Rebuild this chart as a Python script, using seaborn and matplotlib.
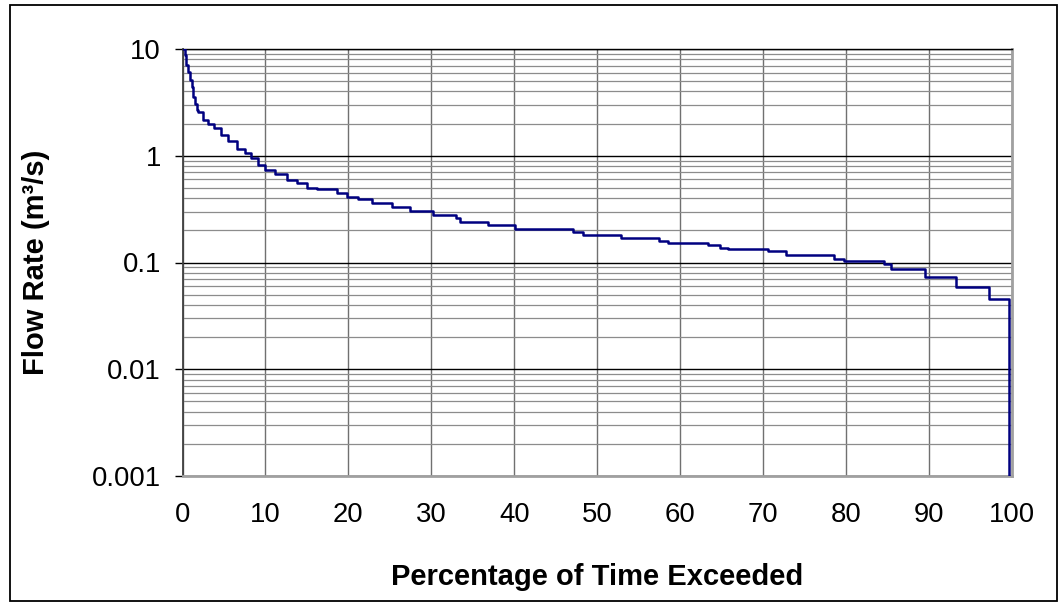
import matplotlib
matplotlib.use("Agg")
import matplotlib.pyplot as plt
import seaborn as sns
import pandas as pd
import numpy as np
from matplotlib.ticker import LogLocator, FixedLocator, NullFormatter
from matplotlib.patches import Rectangle

# Flow duration curve (step points: percentage exceeded, flow rate m3/s)
pct_exceeded = [0.0, 0.27, 0.46, 0.66, 0.9, 1.11, 1.27, 1.47, 1.71, 1.87,
                2.47, 3.07, 3.8, 4.64, 5.48, 6.53, 7.49, 8.29, 9.1, 9.9,
                11.1, 12.55, 13.76, 14.96, 16.17, 18.58, 19.78, 21.18, 22.8, 25.2,
                27.4, 30.2, 33.0, 33.4, 36.8, 40.1, 47.1, 48.3, 52.9, 57.5,
                58.5, 63.3, 64.8, 65.8, 70.6, 72.8, 78.6, 79.8, 84.6, 85.4,
                89.5, 93.3, 97.2, 99.6]
flow_rate = [10.0, 8.79, 7.08, 6.09, 5.12, 4.41, 3.55, 3.05, 2.68, 2.57,
             2.16, 1.98, 1.82, 1.56, 1.37, 1.16, 1.05, 0.946, 0.818, 0.735,
             0.675, 0.593, 0.552, 0.502, 0.485, 0.445, 0.413, 0.394, 0.363, 0.333,
             0.304, 0.279, 0.259, 0.241, 0.2245, 0.206, 0.194, 0.181, 0.168, 0.159,
             0.153, 0.146, 0.1376, 0.133, 0.128, 0.1175, 0.109, 0.103, 0.096, 0.0869,
             0.0726, 0.0586, 0.0452, 0.0001]

x_ticks = [0, 10, 20, 30, 40, 50, 60, 70, 80, 90, 100]
y_ticks = [0.001, 0.01, 0.1, 1, 10]
y_tick_labels = ["0.001", "0.01", "0.1", "1", "10"]

sns.set_style("white")
plt.rcParams["font.family"] = ["Liberation Sans", "DejaVu Sans"]
plt.rcParams["text.color"] = "black"
plt.rcParams["axes.labelcolor"] = "black"
plt.rcParams["xtick.color"] = "black"
plt.rcParams["ytick.color"] = "black"

df = pd.DataFrame({"pct": pct_exceeded, "flow": flow_rate})

fig = plt.figure(figsize=(10.64, 6.07), dpi=100)
ax = fig.add_axes([182.5 / 1064, 1 - 476 / 607, (1012 - 182.5) / 1064, (476 - 49) / 607])

sns.lineplot(data=df, x="pct", y="flow", ax=ax, drawstyle="steps-post",
             color="#000080", linewidth=1.8, estimator=None, sort=True, zorder=5)

ax.set_yscale("log")
ax.set_xlim(0, 100)
ax.set_ylim(0.001, 10)

ax.xaxis.set_major_locator(FixedLocator(x_ticks))
ax.yaxis.set_major_locator(FixedLocator(y_ticks))
ax.set_yticklabels(y_tick_labels)
ax.yaxis.set_minor_locator(LogLocator(base=10, subs=np.arange(2, 10)))
ax.yaxis.set_minor_formatter(NullFormatter())

ax.grid(True, which="major", axis="y", color="black", linewidth=1.0, zorder=1)
ax.grid(True, which="minor", axis="y", color="#8c8c8c", linewidth=0.9, zorder=1)
ax.grid(True, which="major", axis="x", color="#707070", linewidth=1.0, zorder=1)
ax.set_axisbelow(True)

ax.tick_params(axis="y", which="major", length=6, width=1, color="black",
               direction="out", pad=9.5, labelsize=19.8, left=True, labelcolor="black")
ax.tick_params(axis="y", which="minor", length=0)
ax.tick_params(axis="x", which="major", length=0, pad=19, labelsize=19.8, labelcolor="black")

ax.spines["left"].set_color("#404040")
ax.spines["left"].set_linewidth(1.3)
for side in ["right", "bottom"]:
    ax.spines[side].set_color("#a0a0a0")
    ax.spines[side].set_linewidth(2.0)
ax.spines["top"].set_color("black")
ax.spines["top"].set_linewidth(1.0)

ax.set_xlabel("Percentage of Time Exceeded", fontsize=21, fontweight="bold",
              labelpad=25, color="black")
ax.set_ylabel("Flow Rate (m\u00b3/s)", fontsize=21, fontweight="bold",
              labelpad=30, color="black")

# outer chart border
fig.patches.append(Rectangle((10 / 1064, 1 - 601 / 607), 1047 / 1064, 596 / 607,
                             transform=fig.transFigure, fill=False,
                             edgecolor="black", linewidth=1.3))

fig.savefig("out.png", dpi=100)
